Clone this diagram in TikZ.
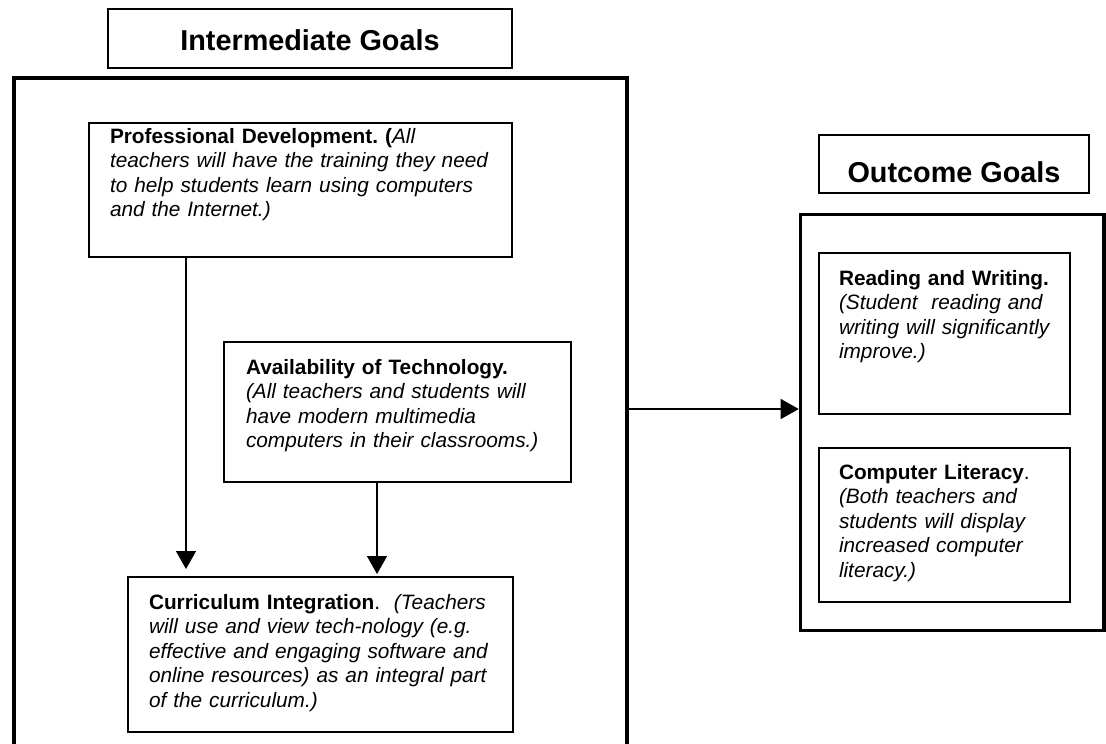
\documentclass[tikz,border=0pt]{standalone}
\usepackage{fontspec}
\setmainfont{Liberation Sans}
\usetikzlibrary{arrows.meta}
\frenchspacing

\begin{document}
\begin{tikzpicture}[x=1pt,y=-1pt,
  >={Triangle[length=18pt,width=20pt]},
  box/.style={draw,line width=1.6pt,outer sep=0pt,inner ysep=0pt,
    anchor=north west,align=left,font=\fontsize{20.8}{24.5}\selectfont},
  head/.style={draw,line width=1.6pt,outer sep=0pt,inner sep=0pt,
    anchor=north west,text depth=0pt,
    font=\fontsize{28.8}{33}\selectfont\bfseries},
  frame/.style={draw,line width=3.6pt,outer sep=0pt,anchor=north west},
  arr/.style={->,line width=1.5pt}]
\useasboundingbox (0,0) rectangle (1106,744);

% intermediate goals
\node[frame,minimum width=613pt,minimum height=720pt] (inter) at (14,78) {};
\node[head,minimum width=404pt,minimum height=59pt,text height=23pt]
  (intertitle) at (108,9) {Intermediate Goals};
\node[box,inner xsep=21pt,text width=381pt,text height=20pt,text depth=114pt]
  (prof) at (89,123)
  {\textbf{Professional Development. (}\textit{All}\\\itshape
   teachers will have the training they need\\to help students learn using
   computers\\and the Internet.)};
\node[box,inner xsep=22pt,text width=303pt,text height=32pt,text depth=108pt]
  (avail) at (224,342)
  {\textbf{Availability of Technology.}\\\itshape
   (All teachers and students will\\have modern multimedia\\computers in
   their classrooms.)};
\node[box,inner xsep=21pt,text width=343pt,text height=32pt,text depth=123pt]
  (curr) at (128,577)
  {\textbf{Curriculum Integration}.\ \ \textit{(Teachers}\\\itshape
   will use and view tech-nology (e.g.\\effective and engaging software
   and\\online resources) as an integral part\\of the curriculum.)};

% outcome goals
\node[frame,minimum width=303.5pt,minimum height=416pt] (outcome) at (800.5,214.5) {};
\node[head,minimum width=270pt,minimum height=58pt,text height=37pt]
  (outtitle) at (819,135) {Outcome Goals};
\node[box,inner xsep=20pt,text width=211pt,text height=32pt,text depth=129pt]
  (read) at (819,253)
  {\textbf{Reading and Writing.}\\\itshape
   (Student\ \ reading and\\writing will significantly\\improve.)};
\node[box,inner xsep=20pt,text width=211pt,text height=31pt,text depth=123pt]
  (comp) at (819,448)
  {\textbf{Computer Literacy}.\\\itshape
   (Both teachers and\\students will display\\increased computer\\literacy.)};

% connectors
\coordinate (lx) at (186,0);
\coordinate (rx) at (377,0);
\coordinate (hy) at (0,409);
\draw[arr,shorten >=8pt] (prof.south -| lx) -- (curr.north -| lx);
\draw[arr,shorten >=3pt] (avail.south -| rx) -- (curr.north -| rx);
\draw[arr,shorten >=1.8pt] (inter.east |- hy) -- (outcome.west |- hy);
\end{tikzpicture}
\end{document}
